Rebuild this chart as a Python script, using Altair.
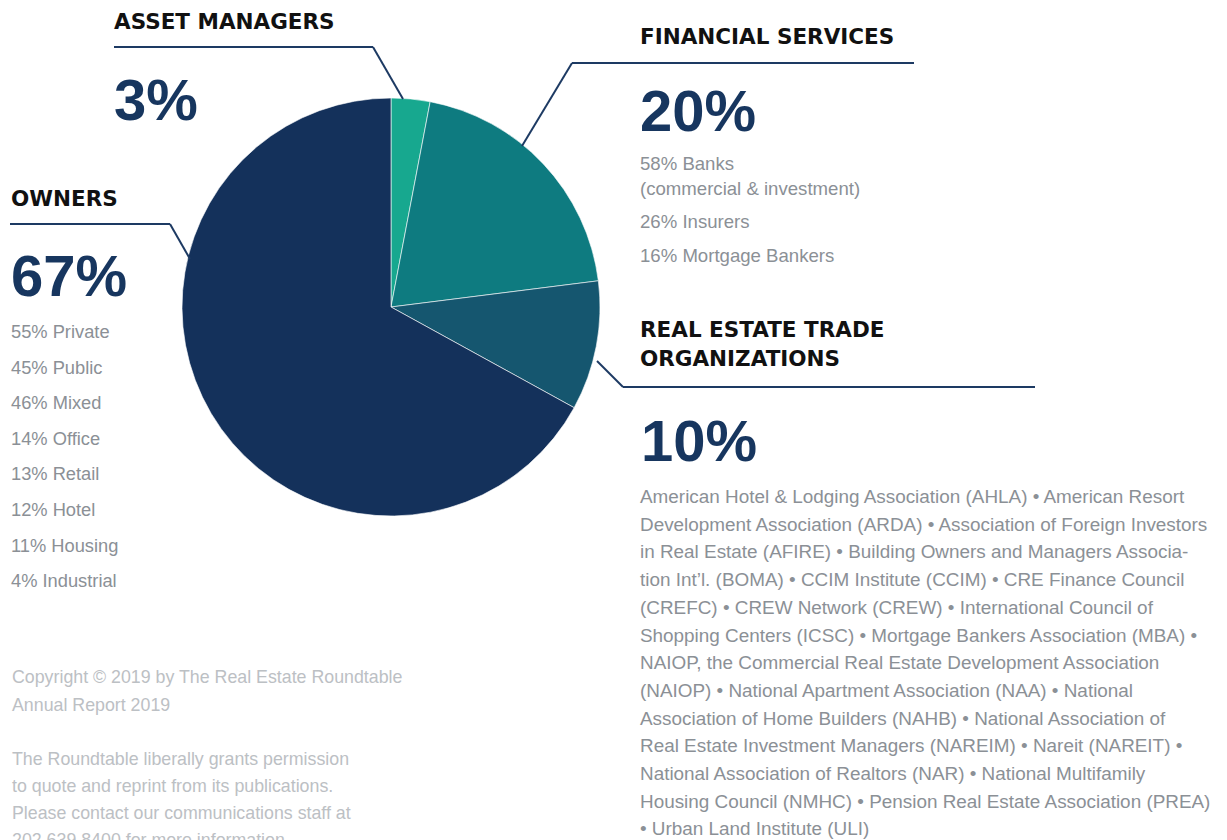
import altair as alt
import pandas as pd

# ---- data ----
segments = ["Asset Managers", "Financial Services", "Real Estate Trade Organizations", "Owners"]
shares = [3, 20, 10, 67]
slice_colors = ["#17a88f", "#0e7b80", "#15566f", "#14315b"]

header_asset = "ASSET MANAGERS"
header_fin = "FINANCIAL SERVICES"
header_owners = "OWNERS"
header_reto = ["REAL ESTATE TRADE", "ORGANIZATIONS"]

fin_lines_a = ["58% Banks", "(commercial & investment)"]
fin_lines_b = ["26% Insurers", "16% Mortgage Bankers"]
owner_lines = ["55% Private", "45% Public", "46% Mixed", "14% Office",
               "13% Retail", "12% Hotel", "11% Housing", "4% Industrial"]
reto_lines = [
    "American Hotel & Lodging Association (AHLA) \u2022 American Resort",
    "Development Association (ARDA) \u2022 Association of Foreign Investors",
    "in Real Estate (AFIRE) \u2022 Building Owners and Managers Associa-",
    "tion Int\u2019l. (BOMA) \u2022 CCIM Institute (CCIM) \u2022 CRE Finance Council",
    "(CREFC) \u2022 CREW Network (CREW) \u2022 International Council of",
    "Shopping Centers (ICSC) \u2022 Mortgage Bankers Association (MBA) \u2022",
    "NAIOP, the Commercial Real Estate Development Association",
    "(NAIOP) \u2022 National Apartment Association (NAA) \u2022 National",
    "Association of Home Builders (NAHB) \u2022 National Association of",
    "Real Estate Investment Managers (NAREIM) \u2022 Nareit (NAREIT) \u2022",
    "National Association of Realtors (NAR) \u2022 National Multifamily",
    "Housing Council (NMHC) \u2022 Pension Real Estate Association (PREA)",
    "\u2022 Urban Land Institute (ULI)",
]
footer_a = ["Copyright \u00a9 2019 by The Real Estate Roundtable", "Annual Report 2019"]
footer_b = ["The Roundtable liberally grants permission",
            "to quote and reprint from its publications.",
            "Please contact our communications staff at",
            "202.639.8400 for more information."]

pie_df = pd.DataFrame({"segment": segments, "share": shares, "ord": list(range(len(segments)))})

# ---- styling ----
FONT = "Liberation Sans"
HFONT = "DejaVu Sans"
NAVY = "#17365f"
LINE = "#1d3a63"
HEAD = "#111111"
GRAY = "#8b9096"
LIGHT = "#bcc0c4"
M = 8  # page margin
one = pd.DataFrame({"k": [0]})


def txt(text, x, y, size, color, weight="normal", lh=None, font=FONT):
    kw = dict(align="left", baseline="alphabetic", font=font, fontSize=size,
              fontWeight=weight, color=color)
    if lh:
        kw["lineHeight"] = lh
    return alt.Chart(one).mark_text(**kw).encode(
        x=alt.value(x - M), y=alt.value(y - M), text=alt.value(text))


def seg(x1, y1, x2, y2):
    return alt.Chart(one).mark_rule(color=LINE, strokeWidth=2).encode(
        x=alt.value(x1 - M), y=alt.value(y1 - M), x2=alt.value(x2 - M), y2=alt.value(y2 - M))


CX, CY, R = 391, 307, 209

pie = alt.Chart(pie_df).mark_arc(outerRadius=R, stroke="white", strokeWidth=0.6).encode(
    theta=alt.Theta("share:Q", stack=True),
    color=alt.Color("segment:N", scale=alt.Scale(domain=segments, range=slice_colors), legend=None),
    order=alt.Order("ord:Q"),
    x=alt.value(CX - M), y=alt.value(CY - M),
)

layers = [
    pie,
    # leader lines
    seg(114, 47, 373, 47), seg(373, 47, 403, 99),
    seg(572, 63, 914, 63), seg(572, 63, 522, 146),
    seg(10, 224, 170, 224), seg(170, 224, 190, 259),
    seg(597, 361, 623, 387), seg(623, 387, 1035, 387),
    # headers
    txt(header_asset, 114, 29, 21.5, HEAD, "bold", font=HFONT),
    txt(header_fin, 640, 44, 21.5, HEAD, "bold", font=HFONT),
    txt(header_owners, 11, 206, 21.5, HEAD, "bold", font=HFONT),
    txt(header_reto, 640, 337, 21.5, HEAD, "bold", lh=29, font=HFONT),
    # big percentages
    txt(f"{shares[0]}%", 114, 120, 58, NAVY, "bold"),
    txt(f"{shares[1]}%", 640, 131, 58, NAVY, "bold"),
    txt(f"{shares[3]}%", 11, 296, 58, NAVY, "bold"),
    txt(f"{shares[2]}%", 641, 461, 58, NAVY, "bold"),
    # detail lists
    txt(fin_lines_a, 640, 170, 18.6, GRAY, lh=25),
    txt(fin_lines_b, 640, 228, 18.6, GRAY, lh=34),
    txt(owner_lines, 11, 338, 18.3, GRAY, lh=35.6),
    txt(reto_lines, 640, 503, 18.9, GRAY, lh=27.7),
    txt(footer_a, 12, 683, 17.8, LIGHT, lh=27.5),
    txt(footer_b, 12, 765, 17.8, LIGHT, lh=27),
]

chart = alt.layer(*layers).properties(
    width=1211, height=850, padding=0, autosize=alt.AutoSizeParams(type="none")
).configure_view(stroke=None)

chart.save("out.html", embed_options={"renderer": "svg", "actions": False})
